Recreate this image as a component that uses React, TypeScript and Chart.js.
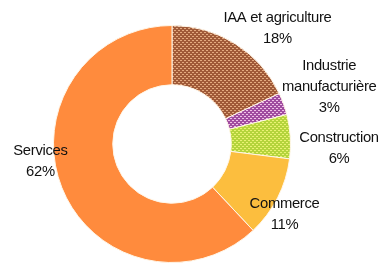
import React, { useEffect, useRef } from "react";
import { Chart, registerables } from "chart.js";

Chart.register(...registerables);

const categories = ["IAA et agriculture", "Industrie manufacturière", "Construction", "Commerce", "Services"];
const labelLines = [["IAA et agriculture"], ["Industrie", "manufacturière"], ["Construction"], ["Commerce"], ["Services"]];
const shares = [18, 3, 6, 11, 62];

function makePattern(base: string, dot: string, size = 4): CanvasPattern | string {
  const c = document.createElement("canvas");
  c.width = size;
  c.height = size;
  const ctx = c.getContext("2d");
  if (!ctx) return base;
  ctx.fillStyle = base;
  ctx.fillRect(0, 0, size, size);
  ctx.fillStyle = dot;
  ctx.fillRect(0, 0, 2, 1);
  ctx.fillRect(2, 2, 2, 1);
  const p = ctx.createPattern(c, "repeat");
  return p || base;
}

// per-label placement: [distance from center in outer radii, angular shift in degrees]
const labelPlacement: [number, number][] = [
  [1.32, 10],
  [1.41, 0],
  [1.41, 5],
  [1.12, 5],
  [1.12, 14],
];

const labelPlugin = {
  id: "sliceLabels",
  afterDatasetsDraw(chart: any) {
    const ctx = chart.ctx;
    const meta = chart.getDatasetMeta(0);
    ctx.save();
    ctx.font = "14.8px 'Liberation Sans', Arial, sans-serif";
    (ctx as any).letterSpacing = "-0.3px";
    ctx.fillStyle = "#111111";
    ctx.textAlign = "center";
    ctx.textBaseline = "middle";
    meta.data.forEach((arc: any, i: number) => {
      const { x, y, startAngle, endAngle, outerRadius } = arc.getProps(["x", "y", "startAngle", "endAngle", "outerRadius"], true);
      const [k, shift] = labelPlacement[i];
      const mid = (startAngle + endAngle) / 2 + (shift * Math.PI) / 180;
      const cx = x + Math.cos(mid) * outerRadius * k;
      const cy = y + Math.sin(mid) * outerRadius * k;
      const lines = [...labelLines[i], shares[i] + "%"];
      const lh = 21;
      lines.forEach((t, j) => {
        ctx.fillText(t, cx, cy + (j - (lines.length - 1) / 2) * lh);
      });
    });
    ctx.restore();
  },
};

export default function App() {
  const ref = useRef<HTMLCanvasElement>(null);
  useEffect(() => {
    document.body.style.margin = "0";
    const canvas = ref.current;
    if (!canvas) return;
    const colors = [
      makePattern("#a05a38", "#e4aa80"),
      makePattern("#a04ca0", "#f0c0e8"),
      makePattern("#b4d43c", "#eaf274"),
      "#fcbe3e",
      "#ff8b3d",
    ];
    const chart = new Chart(canvas, {
      type: "doughnut",
      data: {
        labels: categories,
        datasets: [
          {
            data: shares,
            backgroundColor: colors as any,
            borderColor: "#fff6e8",
            borderWidth: 1,
          },
        ],
      },
      options: {
        responsive: false,
        animation: false,
        cutout: "50%",
        layout: { padding: { left: 53, right: 94, top: 25, bottom: 5 } },
        plugins: { legend: { display: false }, tooltip: { enabled: false } },
      },
      plugins: [labelPlugin],
    });
    return () => chart.destroy();
  }, []);
  return <canvas ref={ref} width={385} height={268} style={{ display: "block" }} />;
}
